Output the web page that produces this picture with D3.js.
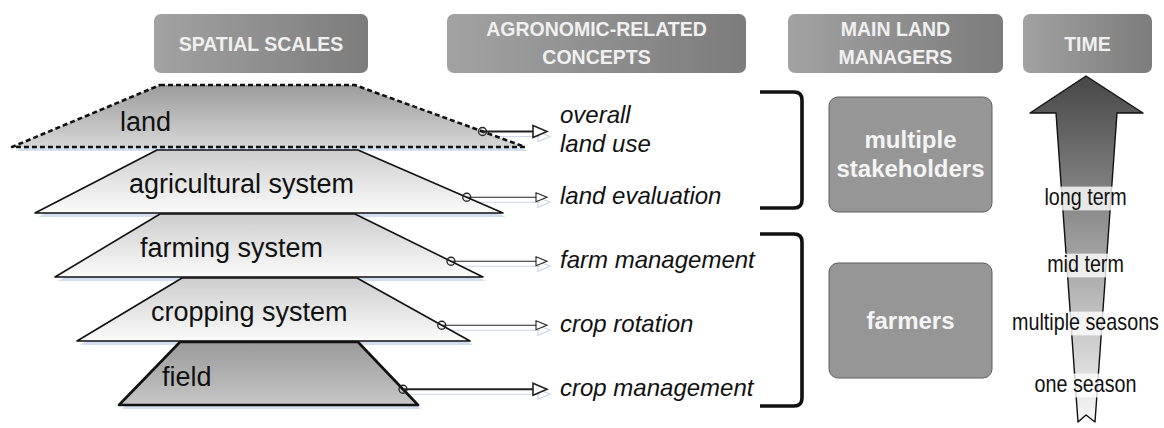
<!DOCTYPE html>
<html>
<head>
<meta charset="utf-8">
<script src="https://cdn.jsdelivr.net/npm/d3@7"></script>
<style>
  body { margin: 0; background: #fff; }
  text { font-family: "Liberation Sans", Arial, sans-serif; }
</style>
</head>
<body>
<div id="chart"></div>
<script>
// Headers of the four columns
var headers = [["SPATIAL SCALES"], ["AGRONOMIC-RELATED", "CONCEPTS"], ["MAIN LAND", "MANAGERS"], ["TIME"]];
// Spatial scales, from largest to smallest
var levels = ["land", "agricultural system", "farming system", "cropping system", "field"];
// Concept linked to each level
var concepts = [["overall", "land use"], ["land evaluation"], ["farm management"], ["crop rotation"], ["crop management"]];
// Land managers and the levels they cover [first, last]
var managers = [["multiple", "stakeholders"], ["farmers"]];
var managerSpan = [[0, 1], [2, 4]];
// Time horizon labels, top to bottom
var timeLabels = ["long term", "mid term", "multiple seasons", "one season"];

var W = 1164, H = 428;
var svg = d3.select("#chart").append("svg").attr("width", W).attr("height", H);
var defs = svg.append("defs");

function vgrad(id, c1, c2, horiz) {
  var g = defs.append("linearGradient").attr("id", id)
    .attr("x1", 0).attr("y1", 0).attr("x2", horiz ? 1 : 0).attr("y2", horiz ? 0 : 1);
  g.append("stop").attr("offset", "0%").attr("stop-color", c1);
  g.append("stop").attr("offset", "100%").attr("stop-color", c2);
}
vgrad("hdr", "#a2a2a2", "#7c7c7c", true);
vgrad("dark", "#9c9c9c", "#d6d6d6");
vgrad("field", "#9a9a9a", "#c6c6c6");
vgrad("light", "#cdcdcd", "#fbfbfb");
vgrad("time", "#474747", "#f7f7f7");

// column x positions of the headers
var hx = [[154, 368], [447, 746], [788, 1003], [1023, 1152]];
var hdr = svg.selectAll("g.hdr").data(headers).enter().append("g");
hdr.append("rect")
  .attr("x", function(d, i) { return hx[i][0]; })
  .attr("y", 14).attr("width", function(d, i) { return hx[i][1] - hx[i][0]; })
  .attr("height", 59).attr("rx", 7).attr("fill", "url(#hdr)");
hdr.each(function(d, i) {
  var g = d3.select(this), cx = (hx[i][0] + hx[i][1]) / 2;
  d.forEach(function(t, j) {
    g.append("text").attr("x", cx)
      .attr("y", d.length == 1 ? 51 : 36 + j * 28)
      .attr("text-anchor", "middle").attr("font-weight", "bold")
      .attr("font-size", 19.5).attr("fill", "#f0f0f0").text(t);
  });
});

// vertical scale over level boundaries
var y = d3.scaleLinear().domain([0, 5]).range([85, 405]);

// trapezoid shapes: [topLeft, topRight, bottomLeft, bottomRight]
var shape = [[160, 355, 12, 525], [157, 358, 35, 503], [160, 355, 55, 483], [182, 357, 77, 470], [180, 358, 119, 418]];
var fills = ["url(#dark)", "url(#light)", "url(#light)", "url(#light)", "url(#field)"];
var textX = [120, 129, 140, 151, 162];

function pts(i, dx, dy) {
  var s = shape[i], t = y(i) + (i ? 1 : 0), b = y(i + 1) - (i == 0 ? 2 : 0);
  return [[s[0] + dx, t + dy], [s[1] + dx, t + dy], [s[3] + dx, b + dy], [s[2] + dx, b + dy]];
}
var line = d3.line().curve(d3.curveLinearClosed);

// shadows first
levels.forEach(function(l, i) {
  svg.append("path").attr("d", line(pts(i, 3, 4))).attr("fill", "#d3deef");
});
// arrow positions on right edges
var tEdge = 0.75;
function edgePt(i) {
  var p = pts(i, 0, 0);
  return [p[1][0] + (p[2][0] - p[1][0]) * tEdge, p[1][1] + (p[2][1] - p[1][1]) * tEdge];
}
var tipX = 547;
// shadow arrows
levels.forEach(function(l, i) {
  var e = edgePt(i);
  var sg = svg.append("g").attr("transform", "translate(3,5)").attr("stroke", "#c9d6ec").attr("fill", "none").attr("stroke-width", 1.2);
  sg.append("line").attr("x1", e[0]).attr("y1", e[1]).attr("x2", tipX - 10).attr("y2", e[1]);
  sg.append("path").attr("d", line([[tipX - 12, e[1] - 5], [tipX, e[1]], [tipX - 12, e[1] + 5]]));
});

levels.forEach(function(l, i) {
  svg.append("path").attr("d", line(pts(i, 0, 0)))
    .attr("fill", fills[i]).attr("stroke", "#111")
    .attr("stroke-width", i == 0 ? 2.6 : (i == 4 ? 2.6 : 1.6))
    .attr("stroke-dasharray", i == 0 ? "5,3" : null)
    .attr("stroke-linejoin", "round");
  var tb = pts(i, 0, 0);
  svg.append("text").attr("x", textX[i])
    .attr("y", i == 4 ? tb[0][1] + 44 : (tb[0][1] + tb[2][1]) / 2 + 11 + (i == 0 ? 4 : 0))
    .attr("font-size", 27).attr("fill", "#111").text(l);
});

// arrows and concepts
levels.forEach(function(l, i) {
  var e = edgePt(i), big = (i == 0 || i == 4);
  var hw = big ? 6 : 4.5, hl = big ? 14 : 11;
  svg.append("line").attr("x1", e[0]).attr("y1", e[1]).attr("x2", tipX - hl).attr("y2", e[1])
    .attr("stroke", "#222").attr("stroke-width", big ? 1.8 : 1.1);
  svg.append("path").attr("d", line([[tipX - hl, e[1] - hw], [tipX, e[1]], [tipX - hl, e[1] + hw]]))
    .attr("fill", "#fff").attr("stroke", "#222").attr("stroke-width", big ? 1.6 : 1.1);
  svg.append("circle").attr("cx", e[0]).attr("cy", e[1]).attr("r", 4)
    .attr("fill", "none").attr("stroke", "#222").attr("stroke-width", 1.3);
  var c = concepts[i];
  c.forEach(function(t, j) {
    svg.append("text").attr("x", 560)
      .attr("y", c.length == 1 ? e[1] + 7 : e[1] - 9 + j * 29)
      .attr("font-size", 24).attr("font-style", "italic").attr("fill", "#111").text(t);
  });
});

// brackets and manager boxes
var brTop = [y(0) + 7, y(2) + 21], brBot = [y(2) - 5, y(5) + 1];
var boxY = [[97, 212], [263, 378]];
managers.forEach(function(m, k) {
  var t = brTop[k], b = brBot[k], r = 8, xv = 802;
  svg.append("path")
    .attr("d", "M760," + t + " L" + (xv - r) + "," + t + " Q" + xv + "," + t + " " + xv + "," + (t + r) +
      " L" + xv + "," + (b - r) + " Q" + xv + "," + b + " " + (xv - r) + "," + b + " L760," + b)
    .attr("fill", "none").attr("stroke", "#111").attr("stroke-width", 3.6);
  svg.append("rect").attr("x", 829).attr("y", boxY[k][0]).attr("width", 163)
    .attr("height", boxY[k][1] - boxY[k][0]).attr("rx", 9)
    .attr("fill", "#969696").attr("stroke", "#5e5e5e").attr("stroke-width", 1);
  var cy = (boxY[k][0] + boxY[k][1]) / 2;
  m.forEach(function(t, j) {
    svg.append("text").attr("x", 910.5)
      .attr("y", cy + 8 + (j - (m.length - 1) / 2) * 29)
      .attr("text-anchor", "middle").attr("font-weight", "bold")
      .attr("font-size", 24).attr("fill", "#f4f4f4").text(t);
  });
});

// time arrow
var tcx = 1086;
svg.append("path")
  .attr("d", line([[tcx, 76], [1143, 113], [1117, 113], [1095, 422], [tcx, 415], [1078, 422], [1056, 113], [1030, 113]]))
  .attr("fill", "url(#time)").attr("stroke", "#111").attr("stroke-width", 1.4).attr("stroke-linejoin", "round");
var ty = [205, 272, 330, 392];
// condensed labels: squeeze horizontally so the widest fits 147px
var tg = svg.append("g");
var labels = timeLabels.map(function(t, i) {
  return tg.append("text").attr("x", 0).attr("y", ty[i])
    .attr("text-anchor", "middle").attr("font-size", 23)
    .attr("fill", "#111").text(t);
});
var maxW = d3.max(labels, function(l) { return l.node().getComputedTextLength(); });
var sx = 147 / maxW;
tg.attr("transform", "translate(" + (tcx - 0.5) + ",0) scale(" + sx + ",1)");
labels.forEach(function(txt) {
  var bb = txt.node().getBBox();
  tg.insert("rect", function() { return txt.node(); })
    .attr("x", bb.x).attr("y", bb.y + 2).attr("width", bb.width).attr("height", bb.height - 2)
    .attr("fill", "#fff").attr("opacity", 0.8);
});
</script>
</body>
</html>
